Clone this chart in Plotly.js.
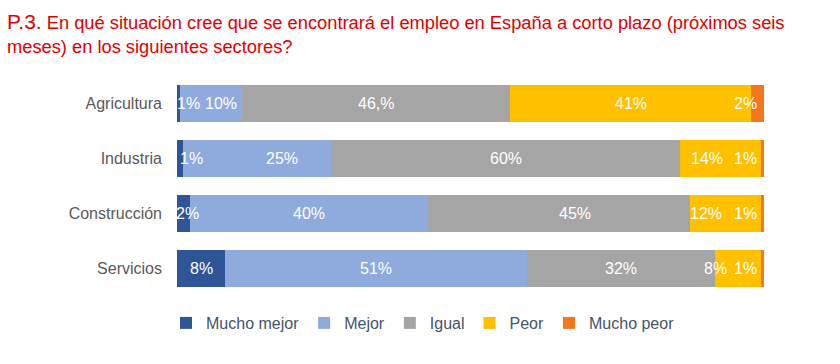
<!DOCTYPE html>
<html>
<head>
<meta charset="utf-8">
<script src="https://cdn.plot.ly/plotly-3.0.1.min.js"></script>
<style>html,body{margin:0;padding:0;background:#fff;}#chart{width:840px;height:364px;}</style>
</head>
<body>
<div id="chart"></div>
<script>
// Categories (top to bottom)
const categories = ["Agricultura", "Industria", "Construcción", "Servicios"];
const seriesNames = ["Mucho mejor", "Mejor", "Igual", "Peor", "Mucho peor"];

// Values (% of respondents)
const muchoMejor = [0.5, 1.0, 2.2, 8.2];
const mejor      = [10.4, 25.3, 40.5, 51.4];
const igual      = [45.9, 59.4, 44.7, 32.1];
const peor       = [41.0, 13.8, 12.1, 7.8];
const muchoPeor  = [2.2, 0.5, 0.5, 0.5];

// Data labels as printed on the chart
const labelsMuchoMejor = ["1%", "1%", "2%", "8%"];
const labelsMejor      = ["10%", "25%", "40%", "51%"];
const labelsIgual      = ["46,%", "60%", "45%", "32%"];
const labelsPeor       = ["41%", "14%", "12%", "8%"];
const labelsMuchoPeor  = ["2%", "1%", "1%", "1%"];

const seriesValues = [muchoMejor, mejor, igual, peor, muchoPeor];
const seriesLabels = [labelsMuchoMejor, labelsMejor, labelsIgual, labelsPeor, labelsMuchoPeor];
const colors = ["#2f5597", "#8faadc", "#a5a5a5", "#ffc000", "#f4771e"];

// pixel nudges for label placement (style only)
const labelNudge = [
  [10, 12, 4, 0],
  [11, 25, 0, 0],
  [0, 0, 16, 0],
  [0, -14, -20, -23],
  [-12, -17, -17, -17]
];

const FONT = "Liberation Sans, Arial, sans-serif";

const traces = seriesValues.map((vals, i) => ({
  type: "bar",
  orientation: "h",
  name: seriesNames[i],
  y: categories,
  x: vals,
  marker: {color: colors[i], line: {width: 0}},
  hoverinfo: "name+x"
}));

const annotations = [];
const cum = categories.map(() => 0);
seriesValues.forEach((vals, i) => {
  vals.forEach((v, j) => {
    annotations.push({
      x: cum[j] + v / 2,
      y: categories[j],
      xref: "x", yref: "y",
      text: seriesLabels[i][j],
      showarrow: false,
      xshift: labelNudge[i][j],
      font: {family: FONT, size: 16, color: "#ffffff"}
    });
    cum[j] += v;
  });
});

const layout = {
  width: 840, height: 364,
  paper_bgcolor: "#ffffff", plot_bgcolor: "#ffffff",
  barmode: "stack",
  bargap: 0.31,
  margin: {l: 177, r: 76, t: 76, b: 68},
  font: {family: FONT, color: "#595959"},
  title: {
    text: "<span style='font-size:21px'>P.3.</span> En qué situación cree que se encontrará el empleo en España a corto plazo (próximos seis<br>meses) en los siguientes sectores?",
    font: {family: FONT, size: 18.3, color: "#e00000"},
    x: 7 / 840, xref: "container", xanchor: "left",
    y: 1 - 29 / 364, yref: "container", yanchor: "top"
  },
  xaxis: {range: [0, 100], showgrid: false, zeroline: false, showticklabels: false, showline: false, fixedrange: true},
  yaxis: {
    autorange: "reversed", showgrid: false, zeroline: false, showline: false,
    ticks: "", ticklabelstandoff: 14,
    tickfont: {family: FONT, size: 16, color: "#595959"}
  },
  showlegend: true,
  legend: {
    orientation: "h",
    x: 423 / 840, xref: "container", xanchor: "center",
    y: 1 - 323 / 364, yref: "container", yanchor: "middle",
    itemwidth: 30,
    traceorder: "normal",
    font: {family: FONT, size: 16, color: "#44546a"}
  },
  annotations: annotations
};

Plotly.newPlot("chart", traces, layout, {displayModeBar: false, staticPlot: true});
</script>
</body>
</html>
